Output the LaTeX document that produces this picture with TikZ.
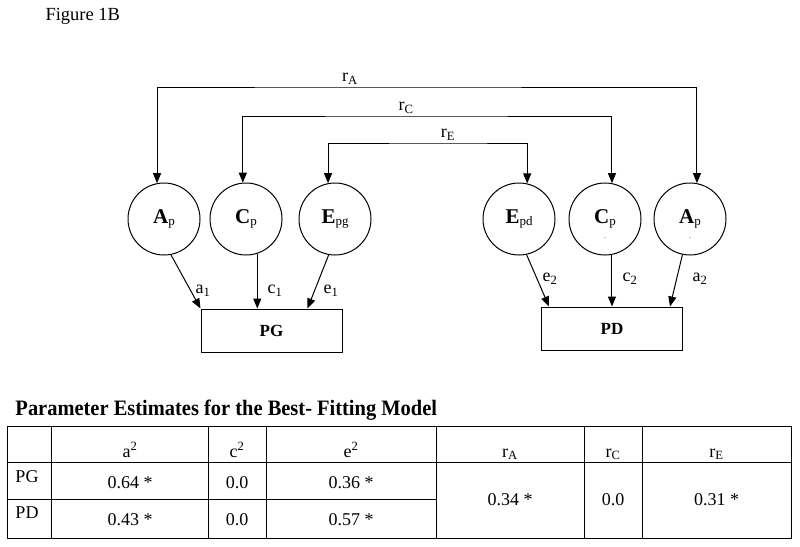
\documentclass[tikz,border=0pt]{standalone}
\usepackage{fontspec}
\setmainfont{Liberation Serif}
\usetikzlibrary{arrows.meta}

\newcommand{\fs}[1]{\fontsize{#1}{#1}\selectfont}
\newcommand{\lv}[2]{{\fs{21}\bfseries #1}\raisebox{-1.5pt}{\fs{13}#2}}

\begin{document}
\begin{tikzpicture}[x=1pt, y=-1pt, line width=1pt,
    latent/.style={circle, draw, minimum size=72pt, inner sep=0pt},
    manifest/.style={draw, minimum width=141pt, minimum height=43pt, font=\fs{17}\bfseries},
    arr/.style={-{Triangle[length=10pt,width=8pt]}},
    corr/.style={{Triangle[length=10pt,width=8pt]}-{Triangle[length=10pt,width=8pt]}},
    lbl/.style={font=\fs{18}, inner sep=0pt},
    cell/.style={font=\fs{18}, anchor=base, inner sep=0pt},
    dotlbl/.style={font=\fs{7}, inner sep=0pt, yshift=-19pt}]
    \useasboundingbox (0,0) rectangle (800,546);

    \node[anchor=base west, inner sep=0pt, font=\fs{18.5}] (fig) at (45,20) {Figure 1B};

    % latent factors
    \node[latent] (A1) at (164,219) {\lv{A}{p}};
    \node[latent] (C1) at (246,219) {\lv{C}{p}};
    \node[latent] (E1) at (335,219) {\lv{E}{pg}};
    \node[latent] (E2) at (519,219) {\lv{E}{pd}};
    \node[latent, label={[dotlbl]center:.}] (C2) at (605,219) {\lv{C}{p}};
    \node[latent, label={[dotlbl]center:.}] (A2) at (690,219) {\lv{A}{p}};

    % observed
    \node[manifest] (PG) at (271.5,330.5) {PG};
    \node[manifest] (PD) at (612,328.5) {PD};

    % correlations
    \coordinate (lA) at (350,87);
    \coordinate (lC) at (406,116);
    \coordinate (lE) at (448,143);
    \draw[corr] (A1.101) |- (lA) -| (A2.79);
    \draw[corr] (C1.95) |- (lC) -| (C2.79);
    \draw[corr] (E1.101) |- (lE) -| (E2.77);
    \node[lbl, above=2pt] (rA) at (lA) {r\textsubscript{A}};
    \node[lbl, above=2pt] (rC) at (lC) {r\textsubscript{C}};
    \node[lbl, above=2pt] (rE) at (lE) {r\textsubscript{E}};

    % paths
    \draw[arr] (A1.-79) -- (PG.north west);
    \draw[arr] (C1.-72) -- (C1.-72 |- PG.north);
    \draw[arr] (E1.-100) -- ([xshift=-35pt]PG.north east);
    \draw[arr] (E2.-78) -- ([xshift=8pt]PD.north west);
    \draw[arr] (C2.-79) -- (C2.-79 |- PD.north);
    \draw[arr] (A2.-102) -- ([xshift=-13pt]PD.north east);
    \node[lbl] (a1) at (203,291) {a\textsubscript{1}};
    \node[lbl] (c1) at (275,291) {c\textsubscript{1}};
    \node[lbl] (e1) at (331,291) {e\textsubscript{1}};
    \node[lbl] (e2) at (550,279) {e\textsubscript{2}};
    \node[lbl] (c2) at (630,279) {c\textsubscript{2}};
    \node[lbl] (a2) at (700,279) {a\textsubscript{2}};

    % table
    \node[anchor=base west, inner sep=0pt] (title) at (15,415)
        {\scalebox{0.93}[1]{\fs{22}\bfseries Parameter Estimates for the Best- Fitting Model}};
    \draw (7.5,426) rectangle (791,538);
    \draw (7.5,462) -- (791,462);
    \draw (7.5,499) -- (436,499);
    \foreach \x in {51.7,208.3,266,436,584,642}
        \draw (\x,426) -- (\x,538);

    \node[cell] (h1) at (130,457) {a\textsuperscript{2}};
    \node[cell] (h2) at (237,457) {c\textsuperscript{2}};
    \node[cell] (h3) at (351,457) {e\textsuperscript{2}};
    \node[cell] (h4) at (510,457) {r\textsubscript{A}};
    \node[cell] (h5) at (613,457) {r\textsubscript{C}};
    \node[cell] (h6) at (716.5,457) {r\textsubscript{E}};

    \node[cell, anchor=base west] (pg) at (15,482) {PG};
    \node[cell] at (130,488) {0.64 *};
    \node[cell] at (237,488) {0.0};
    \node[cell] at (351,488) {0.36 *};
    \node[cell, anchor=base west] (pd) at (15,518) {PD};
    \node[cell] at (130,525) {0.43 *};
    \node[cell] at (237,525) {0.0};
    \node[cell] at (351,525) {0.57 *};

    \node[cell] at (510,505.5) {0.34 *};
    \node[cell] at (613,505.5) {0.0};
    \node[cell] at (716.5,505.5) {0.31 *};
\end{tikzpicture}
\end{document}
